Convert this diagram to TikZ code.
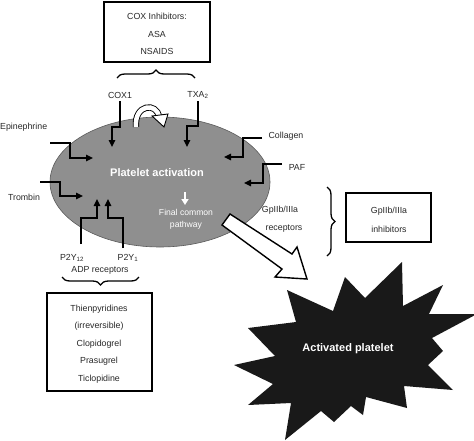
\documentclass[tikz,border=0pt]{standalone}
\usepackage{fontspec}
\setmainfont{Liberation Sans}
\usetikzlibrary{arrows.meta,decorations.pathreplacing,shapes.geometric}
\definecolor{ellgray}{RGB}{143,143,143}
\definecolor{ellline}{RGB}{90,90,90}
\definecolor{txt}{RGB}{40,40,40}
\definecolor{starblack}{RGB}{25,25,25}
\begin{document}
\begin{tikzpicture}[x=1pt,y=-1pt,
  lbl/.style={font=\fontsize{8.8}{10}\selectfont, text=txt, inner sep=0pt},
  wlbl/.style={font=\fontsize{8.6}{12}\selectfont, text=white, inner sep=0pt, align=center},
  big/.style={font=\bfseries\fontsize{11}{13}\selectfont, text=white, inner sep=0pt},
  conn/.style={line width=1.4pt, -{Triangle[length=7pt,width=6.5pt]}},
  boxed/.style={draw, line width=1.4pt, fill=white, inner sep=0pt},
  boxtext/.style={font=\fontsize{8.8}{17.5}\selectfont, text=txt, align=center, inner sep=0pt},
  br/.style={decorate, decoration={brace, amplitude=8pt}, line width=1.3pt}
]
\useasboundingbox (0,0) rectangle (474,440);

% cell
\node[ellipse, draw=ellline, line width=0.6pt, fill=ellgray, minimum width=220pt, minimum height=130pt, inner sep=0pt] (cell) at (160,182) {};
\node[big] (pa) at (157,173) {Platelet activation};
\coordinate (wa1) at (185,192);
\coordinate (wa2) at (185,205);
\draw[white, line width=1.8pt, -{Triangle[length=6pt,width=7pt]}] (wa1) -- (wa2);
\node[wlbl] (fcp) at (186,219) {Final common\\pathway};

% top box
\node[boxed, minimum width=106pt, minimum height=60pt] (coxbox) at (157,32) {};
\node[boxtext] (coxtext) at (157,34) {COX Inhibitors:\\ASA\\NSAIDS};
\coordinate (bt1) at (117,78);
\coordinate (bt2) at (195,78);
\draw[br] (bt1) -- (bt2);

% COX1 / TXA2
\node[lbl] (cox1) at (120,95) {COX1};
\node[lbl] (txa2) at (198,95) {TXA\textsubscript{2}};
\coordinate (c1a) at (120,101);
\coordinate (c1b) at (120,127);
\coordinate (c1c) at (112,127);
\coordinate (c1d) at (112,147);
\draw[conn] (c1a) -- (c1b) -- (c1c) -- (c1d);
\coordinate (t1a) at (198,101);
\coordinate (t1b) at (198,126);
\coordinate (t1c) at (187,126);
\coordinate (t1d) at (187,147);
\draw[conn] (t1a) -- (t1b) -- (t1c) -- (t1d);

% curved hollow arrow
\coordinate (ca1) at (136,127);
\coordinate (ca2) at (159,117);
\draw[double=white, double distance=4.5pt, line width=0.9pt] (ca1) .. controls (134,104) and (157,102) .. (ca2);
\coordinate (h1) at (152,116);
\coordinate (h2) at (168,114);
\coordinate (h3) at (164,127);
\draw[fill=white, line width=0.9pt, line join=miter] (h1) -- (h2) -- (h3) -- cycle;

% left inputs
\node[lbl, anchor=west] (epi) at (0,127) {Epinephrine};
\coordinate (e1) at (50,143);
\coordinate (e2) at (70,143);
\coordinate (e3) at (70,158);
\coordinate (e4) at (93,158);
\draw[conn] (e1) -- (e2) -- (e3) -- (e4);
\node[lbl] (trom) at (24,197) {Trombin};
\coordinate (r1) at (40,182);
\coordinate (r2) at (60,182);
\coordinate (r3) at (60,196);
\coordinate (r4) at (83,196);
\draw[conn] (r1) -- (r2) -- (r3) -- (r4);

% right inputs
\node[lbl] (coll) at (286,136) {Collagen};
\coordinate (k1) at (262,138);
\coordinate (k2) at (243,138);
\coordinate (k3) at (243,157);
\coordinate (k4) at (224,157);
\draw[conn] (k1) -- (k2) -- (k3) -- (k4);
\node[lbl] (paf) at (297,167) {PAF};
\coordinate (p1) at (282,164);
\coordinate (p2) at (263,164);
\coordinate (p3) at (263,183);
\coordinate (p4) at (244,183);
\draw[conn] (p1) -- (p2) -- (p3) -- (p4);

% ADP receptors
\coordinate (y1a) at (81,244);
\coordinate (y1b) at (81,218);
\coordinate (y1c) at (97,218);
\coordinate (y1d) at (97,199);
\draw[conn] (y1a) -- (y1b) -- (y1c) -- (y1d);
\coordinate (y2a) at (123,248);
\coordinate (y2b) at (123,218);
\coordinate (y2c) at (108,218);
\coordinate (y2d) at (108,199);
\draw[conn] (y2a) -- (y2b) -- (y2c) -- (y2d);
\node[lbl] (p2y12) at (72,258) {P2Y\textsubscript{12}};
\node[lbl] (p2y1) at (128,258) {P2Y\textsubscript{1}};
\node[lbl] (adp) at (100,270) {ADP receptors};
\coordinate (bb1) at (139,277);
\coordinate (bb2) at (62,277);
\draw[br] (bb1) -- (bb2);
\node[boxed, minimum width=105pt, minimum height=98pt] (thbox) at (99.5,342) {};
\node[boxtext] (thtext) at (99,344) {Thienpyridines\\(irreversible)\\Clopidogrel\\Prasugrel\\Ticlopidine};

% GpIIb/IIIa
\node[lbl] (gpr1) at (280,210) {GpIIb/IIIa};
\node[lbl] (gpr2) at (284,229) {receptors};
\coordinate (rb1) at (327,187);
\coordinate (rb2) at (327,256);
\draw[br] (rb1) -- (rb2);
\node[boxed, minimum width=85pt, minimum height=49pt] (gpbox) at (388.5,217.5) {};
\node[font=\fontsize{8.8}{19}\selectfont, text=txt, align=center, inner sep=0pt] (gptext) at (389,220) {GpIIb/IIIa\\inhibitors};

% big hollow arrow
\draw[fill=white, line width=1.4pt, line join=miter]
  (230,214) -- (292,254) -- (297,247) -- (307,279) -- (275,277) -- (282,269) -- (222,225) -- cycle;

% activated platelet starburst
\fill[starblack]
  (287,290) -- (333,311) -- (345,277) -- (365,298) -- (402,262) -- (403,306) --
  (443,285) -- (429,314) -- (477,314) -- (432,338) -- (443,351) -- (428,365) --
  (453,390) -- (404,386) -- (407,408) -- (366,397) -- (363,415) -- (351,406) --
  (334,422) -- (321,411) -- (285,440) -- (291,403) -- (248,405) -- (273,384) --
  (234,365) -- (275,356) -- (248,328) -- (296,322) -- cycle;
\node[big] (ap) at (348,349) {Activated platelet};
\end{tikzpicture}
\end{document}
